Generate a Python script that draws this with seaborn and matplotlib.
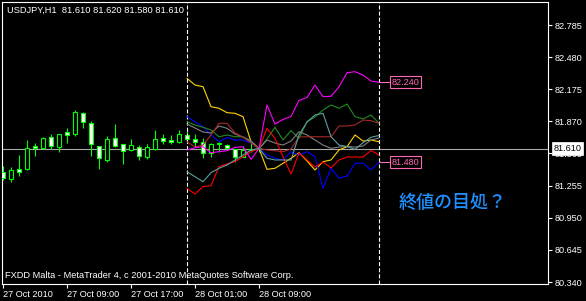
import numpy as np
import pandas as pd
import matplotlib
matplotlib.use("Agg")
import matplotlib.pyplot as plt
import seaborn as sns

# ---------------- data ----------------
bar_labels = ["27 Oct 2010", "27 Oct 09:00", "27 Oct 17:00", "28 Oct 01:00", "28 Oct 09:00"]
bar_label_pos = [0, 8, 16, 24, 32]

opens  = [81.384, 81.317, 81.415, 81.415, 81.634, 81.618, 81.717, 81.627, 81.764, 81.745,
          81.945, 81.850, 81.637, 81.501, 81.707, 81.650, 81.596, 81.627, 81.532, 81.605,
          81.707, 81.691, 81.675, 81.736, 81.698, 81.675, 81.570, 81.653, 81.643, 81.602,
          81.532, 81.602, 81.610]
highs  = [81.444, 81.431, 81.548, 81.691, 81.665, 81.722, 81.748, 81.750, 81.808, 81.976,
          81.955, 81.872, 81.637, 81.729, 81.843, 81.650, 81.698, 81.643, 81.650, 81.786,
          81.748, 81.735, 81.786, 81.776, 81.748, 81.707, 81.665, 81.675, 81.653, 81.602,
          81.634, 81.665, 81.620]
lows   = [81.310, 81.294, 81.348, 81.406, 81.542, 81.602, 81.602, 81.580, 81.665, 81.731,
          81.808, 81.542, 81.418, 81.484, 81.627, 81.463, 81.586, 81.501, 81.513, 81.596,
          81.650, 81.653, 81.660, 81.691, 81.621, 81.517, 81.526, 81.580, 81.602, 81.484,
          81.526, 81.580, 81.580]
closes = [81.327, 81.406, 81.389, 81.612, 81.618, 81.707, 81.637, 81.748, 81.736, 81.954,
          81.859, 81.650, 81.517, 81.698, 81.637, 81.589, 81.643, 81.542, 81.621, 81.698,
          81.685, 81.672, 81.748, 81.703, 81.675, 81.564, 81.653, 81.663, 81.612, 81.526,
          81.596, 81.596, 81.610]

symbol = "USDJPY,H1"
bid = 81.610

# projected similar-pattern paths (9 bars before the current bar, 15 after)
proj_start = 23
yellow  = [82.278, 82.214, 82.198, 82.008, 81.993, 81.951, 81.945, 81.913, 81.675, 81.610,
           81.412, 81.422, 81.469, 81.517, 81.570, 81.491, 81.406, 81.485, 81.501, 81.596,
           81.627, 81.739, 81.681, 81.691, 81.675]
blue    = [81.913, 81.865, 81.818, 81.739, 81.675, 81.715, 81.691, 81.691, 81.662, 81.610,
           81.548, 81.517, 81.501, 81.580, 81.548, 81.580, 81.532, 81.231, 81.425, 81.327,
           81.348, 81.469, 81.472, 81.406, 81.480]
green   = [81.865, 81.834, 81.812, 81.786, 81.722, 81.739, 81.722, 81.722, 81.675, 81.610,
           81.700, 81.812, 81.691, 81.781, 81.707, 81.865, 81.910, 81.976, 82.024, 81.993,
           82.033, 81.913, 81.891, 81.929, 81.850]
gray    = [81.843, 81.805, 81.767, 81.758, 81.824, 81.802, 81.748, 81.719, 81.681, 81.610,
           81.691, 81.662, 81.643, 81.681, 81.770, 81.739, 81.691, 81.643, 81.612, 81.624,
           81.629, 81.624, 81.634, 81.691, 81.710]
brown   = [81.675, 81.624, 81.643, 81.739, 81.850, 81.850, 81.758, 81.719, 81.662, 81.610,
           81.596, 81.589, 81.580, 81.605, 81.719, 81.722, 81.722, 81.722, 81.722, 81.824,
           81.824, 81.834, 81.881, 81.875, 81.850]
red     = [81.231, 81.177, 81.247, 81.256, 81.437, 81.463, 81.485, 81.532, 81.580, 81.610,
           81.802, 81.707, 81.532, 81.368, 81.567, 81.501, 81.434, 81.482, 81.425, 81.501,
           81.529, 81.529, 81.529, 81.591, 81.548]
magenta = [81.596, 81.618, 81.627, 81.570, 81.580, 81.589, 81.621, 81.627, 81.507, 81.610,
           82.024, 81.843, 81.886, 81.915, 82.067, 82.095, 82.214, 82.103, 82.107, 82.198,
           82.331, 82.341, 82.309, 82.252, 82.240]
cadet   = [81.389, 81.342, 81.294, 81.380, 81.422, 81.453, 81.501, 81.548, 81.596, 81.610,
           81.517, 81.501, 81.501, 81.501, 81.739, 81.862, 81.929, 81.945, 81.722, 81.643,
           81.629, 81.602, 81.665, 81.717, 81.734]

series = {"yellow": yellow, "blue": blue, "green": green, "gray": gray,
          "brown": brown, "red": red, "magenta": magenta, "cadet": cadet}
palette = {"yellow": "#FFD700", "blue": "#0000FF", "green": "#228B22", "gray": "#808080",
           "brown": "#A52A2A", "red": "#FF0000", "magenta": "#FF00FF", "cadet": "#5F9EA0"}

y_ticks = [82.785, 82.480, 82.175, 81.870, 81.565, 81.255, 80.950, 80.645, 80.340]

note_text = "終値の目処？"
copyright_text = "FXDD Malta - MetaTrader 4, c 2001-2010 MetaQuotes Software Corp."

# ---------------- figure ----------------
sns.set_style("dark")
plt.rcParams["font.family"] = ["Liberation Sans", "DejaVu Sans"]

W, H = 586, 301
fig = plt.figure(figsize=(W / 100, H / 100), dpi=100, facecolor="black")
ax = fig.add_axes([2 / W, 1 - 284 / H, 546 / W, 282 / H])
ax.set_facecolor("black")
ax.grid(False)
for s in ax.spines.values():
    s.set_color("white")
    s.set_linewidth(0.8)

ax.set_xlim(-0.125, 68.125)
ax.set_ylim(80.321, 83.004)

lime = "#00FF00"
n = len(opens)
xs = np.arange(n)
o = np.array(opens); c = np.array(closes); h = np.array(highs); l = np.array(lows)
ax.vlines(xs, l, h, color=lime, lw=0.8, zorder=2)
bottoms = np.minimum(o, c)
heights = np.maximum(np.abs(c - o), 0.002)
fills = ["white" if cc < oo else "black" for oo, cc in zip(o, c)]
ax.bar(xs, heights, bottom=bottoms, width=0.62, color=fills, edgecolor=lime,
       linewidth=0.8, zorder=3)

# bid line
ax.axhline(bid, color="#A9A9A9", lw=0.8, zorder=1)

# dashed separators
proj_len = len(yellow)
proj_end = proj_start + proj_len - 1
for xv in (proj_start, proj_end):
    ax.axvline(xv, color="white", lw=0.8, ls=(0, (3.6, 1.9)), zorder=4)

# projected lines via seaborn
rows = []
for name, vals in series.items():
    for k, v in enumerate(vals):
        rows.append({"bar": proj_start + k, "price": v, "series": name})
df = pd.DataFrame(rows)
sns.lineplot(data=df, x="bar", y="price", hue="series", palette=palette,
             estimator=None, legend=False, lw=0.8, ax=ax, zorder=5)
ax.set_xlabel("")
ax.set_ylabel("")

# end labels (highest / lowest final value)
finals = [v[-1] for v in series.values()]
pink = "#FF69B4"
for val in (max(finals), min(finals)):
    ax.plot([proj_end, proj_end + 1.45], [val, val], color=pink, lw=0.8, zorder=5)
    ax.text(proj_end + 1.62, val, f"{val:.3f}", color=pink, fontsize=6.6,
            ha="left", va="center", zorder=6,
            bbox=dict(boxstyle="square,pad=0.18", fc="black", ec=pink, lw=0.8))

# note
ax.text(49.5, 81.092, note_text, color="#1E90FF", fontsize=13, fontweight="medium",
        family=["Noto Sans CJK JP", "DejaVu Sans"], ha="left", va="center", zorder=6)

# axes ticks
ax.yaxis.tick_right()
ax.set_yticks(y_ticks)
ax.set_yticklabels([f"{t:.3f}" for t in y_ticks])
ax.set_xticks(bar_label_pos)
ax.set_xticklabels(bar_labels, ha="left")
ax.tick_params(axis="y", colors="white", length=3, width=0.8, pad=1.5, labelsize=6.6,
               direction="out", right=True, left=False)
ax.tick_params(axis="x", colors="white", length=3, width=0.8, pad=1.2, labelsize=6.6,
               direction="out", bottom=True)

# bid price box on the axis
ax.annotate(f"{bid:.3f}", xy=(1, bid), xycoords=("axes fraction", "data"),
            xytext=(4.0, 0), textcoords="offset points", color="black", fontsize=6.6,
            ha="left", va="center", zorder=20, annotation_clip=False,
            bbox=dict(boxstyle="square,pad=0.2", fc="white", ec="white", lw=0.5))

# header / footer texts
fig.text(7 / W, 1 - 10.5 / H, f"{symbol}  {opens[-1]:.3f} {highs[-1]:.3f} {lows[-1]:.3f} {closes[-1]:.3f}",
         color="white", fontsize=6.7, ha="left", va="center")
fig.text(5 / W, 1 - 275.5 / H, copyright_text, color="white", fontsize=6.7,
         ha="left", va="center")

fig.savefig("out.png", dpi=100, facecolor="black")
